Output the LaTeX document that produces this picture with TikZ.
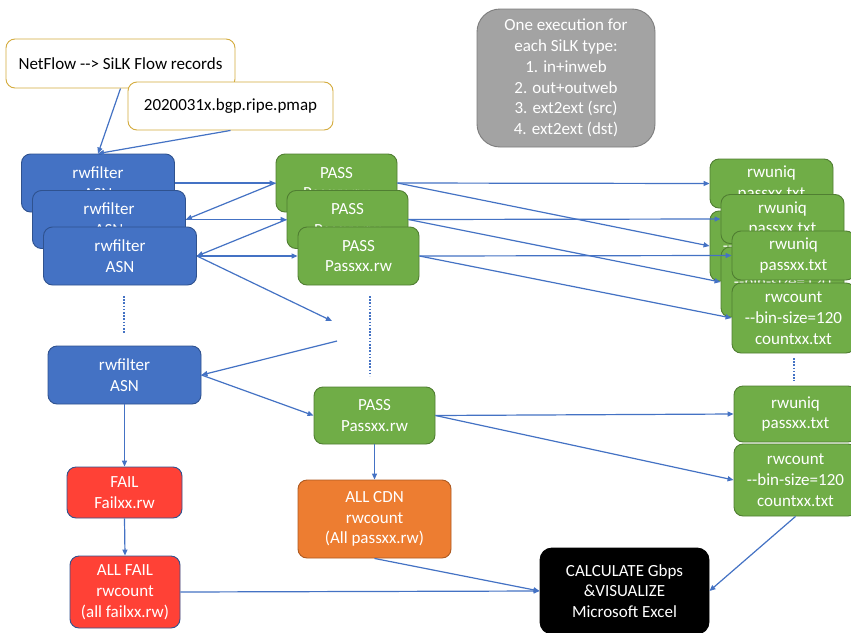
\documentclass[tikz,border=0pt]{standalone}
\usepackage{fontspec}
\setmainfont{Carlito}
\usetikzlibrary{arrows.meta}

\definecolor{linkblue}{RGB}{68,114,196}
\definecolor{bluefill}{RGB}{68,114,196}
\definecolor{blueedge}{RGB}{47,82,143}
\definecolor{greenfill}{RGB}{112,173,71}
\definecolor{greenedge}{RGB}{80,126,50}
\definecolor{redfill}{RGB}{255,65,54}
\definecolor{orangefill}{RGB}{237,125,49}
\definecolor{orangeedge}{RGB}{174,90,33}
\definecolor{greyfill}{RGB}{163,163,163}
\definecolor{greyedge}{RGB}{125,125,125}
\definecolor{goldedge}{RGB}{212,172,62}

\tikzset{
  txt/.style={font=\fontsize{17}{20.8}\selectfont},
  card/.style={txt, draw, rounded corners=9pt, line width=0.9pt, align=center,
    inner sep=0pt, text=white},
  infile/.style={txt, draw=goldedge, fill=white, rounded corners=9pt, line width=0.9pt,
    align=center, inner sep=0pt, text=black},
  filterbox/.style={card, fill=bluefill, draw=blueedge, minimum width=153pt, minimum height=58pt},
  passbox/.style={card, fill=greenfill, draw=greenedge, minimum width=121pt, minimum height=58pt},
  uniqbox/.style={card, fill=greenfill, draw=greenedge, minimum width=123pt, minimum height=49pt},
  countbox/.style={card, fill=greenfill, draw=greenedge, minimum width=123pt, minimum height=70pt},
  failbox/.style={card, fill=redfill, draw=blueedge},
  link/.style={draw=linkblue, line width=1.2pt, -{Triangle[length=6pt,width=5pt]}},
  ellipsis/.style={draw=linkblue, line width=1.8pt, dash pattern=on 1.6pt off 1.6pt}
}

\begin{document}
\begin{tikzpicture}[x=1pt, y=-1pt]
\useasboundingbox (0,0) rectangle (851,632);
\fill[white] (0,0) rectangle (851,632);

% inputs and note
\node[infile, minimum width=229pt, minimum height=49pt] (netflow) at (120.5,63.5) {NetFlow -{}-> SiLK Flow records};
\node[infile, minimum width=205pt, minimum height=48pt] (pmap) at (230.5,106) {2020031x.bgp.ripe.pmap};
\node[card, fill=greyfill, draw=greyedge, rounded corners=23pt, minimum width=178pt, minimum height=138pt] (note) at (566,78)
  {One execution for\\each SiLK type:\\1. in+inweb\\2. out+outweb\\3. ext2ext (src)\\4. ext2ext (dst)};

% stacked rwfilter / PASS runs
\node[filterbox] (rf1) at (98,183) {rwfilter\\ASN};
\node[filterbox] (rf2) at (109,219.5) {rwfilter\\ASN};
\node[filterbox] (rf3) at (120,256) {rwfilter\\ASN};
\node[passbox] (p1) at (336.5,183) {PASS\\Passxx.rw};
\node[passbox] (p2) at (347.5,219.5) {PASS\\Passxx.rw};
\node[passbox] (p3) at (358.5,256) {PASS\\Passxx.rw};

% stacked rwuniq / rwcount outputs
\node[uniqbox] (u1) at (771.5,183.5) {rwuniq\\passxx.txt};
\node[countbox] (c1) at (771.5,246) {rwcount\\-{}-bin-size=120\\countxx.txt};
\node[uniqbox] (u2) at (782.5,219) {rwuniq\\passxx.txt};
\node[countbox] (c2) at (782.5,282) {rwcount\\-{}-bin-size=120\\countxx.txt};
\node[uniqbox] (u3) at (793.5,255.5) {rwuniq\\passxx.txt};
\node[countbox] (c3) at (793.5,318) {rwcount\\-{}-bin-size=120\\countxx.txt};

% last run
\node[filterbox] (rf4) at (124.5,375) {rwfilter\\ASN};
\node[passbox, minimum height=57pt] (p4) at (374.5,415.5) {PASS\\Passxx.rw};
\node[uniqbox, minimum height=56pt] (u4) at (795.5,414) {rwuniq\\passxx.txt};
\node[countbox, minimum height=72pt] (c4) at (795.5,480) {rwcount\\-{}-bin-size=120\\countxx.txt};

% aggregation
\node[failbox, minimum width=115pt, minimum height=51pt] (fail) at (124.5,492.5) {FAIL\\Failxx.rw};
\node[failbox, minimum width=110pt, minimum height=72pt] (allfail) at (125,592) {ALL FAIL\\rwcount\\(all failxx.rw)};
\node[card, fill=orangefill, draw=orangeedge, minimum width=153pt, minimum height=78pt] (cdn) at (374.5,519) {ALL CDN\\rwcount\\(All passxx.rw)};
\node[card, fill=black, draw=black, rounded corners=12pt, minimum width=169pt, minimum height=86pt] (calc) at (624.5,591) {CALCULATE Gbps\\\&VISUALIZE\\Microsoft Excel};

% free ends of the elided runs
\coordinate (gapin) at (332,321);
\coordinate (gapout) at (337,341);
\coordinate (dotLa) at (124,296);
\coordinate (dotLb) at (124,333);
\coordinate (dotMa) at (370,296);
\coordinate (dotMb) at (370,376);
\coordinate (dotRa) at (794,358);
\coordinate (dotRb) at (794,381);

% connectors
\path[link] (netflow.south) -- (rf1.north);
\path[link] (pmap.south) -- (rf1.north);
\path[link] (rf1.east) -- (p1.west);
\path[link] (p1.west) -- (rf2.east);
\path[link] (rf2.east) -- (p2.west);
\path[link] (p2.west) -- (rf3.east);
\path[link] (rf3.east) -- (p3.west);
\path[link] (rf3.east) -- (gapin);
\path[link] (gapout) -- (rf4.east);
\path[link] (rf4.east) -- (p4.west);
\path[link] (rf4.south) -- (fail.north);
\path[link] (fail.south) -- (allfail.north);
\path[link] (p4.south) -- (cdn.north);
\path[link] (allfail.east) -- (calc.west);
\path[link] (cdn.south) -- (calc.west);
\path[link] (c4.south) -- (calc.east);
\path[link] (p4.east) -- (u4.west);
\path[link] (p4.east) -- (c4.west);
\path[link] (p1.east) -- (u1.west);
\path[link] (p1.east) -- (c1.west);
\path[link] (p2.east) -- (u2.west);
\path[link] (p2.east) -- (c2.west);
\path[link] (p3.east) -- (u3.west);
\path[link] (p3.east) -- (c3.west);

% vertical ellipses
\draw[ellipsis] (dotLa) -- (dotLb);
\draw[ellipsis] (dotMa) -- (dotMb);
\draw[ellipsis] (dotRa) -- (dotRb);
\end{tikzpicture}
\end{document}
